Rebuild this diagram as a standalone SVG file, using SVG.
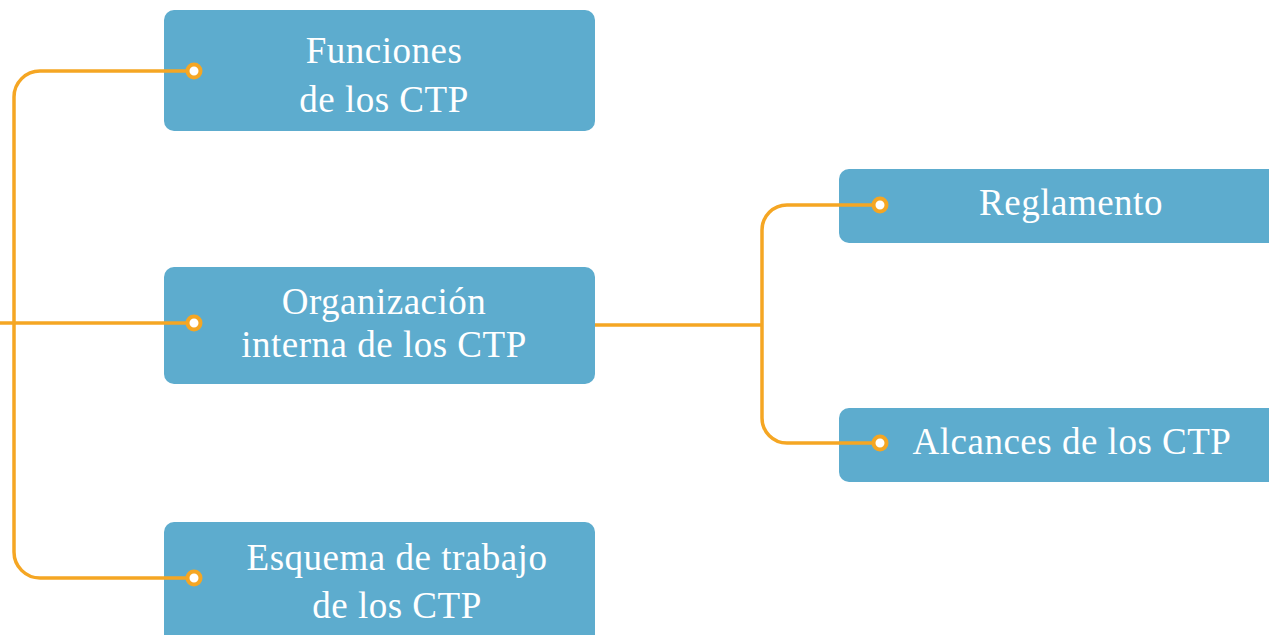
<svg xmlns="http://www.w3.org/2000/svg" width="1269" height="635" viewBox="0 0 1269 635">
<style>
.box{fill:#5DACCE}
.t{font-family:"Liberation Serif",serif;font-size:37px;letter-spacing:0.5px;fill:#ffffff;text-anchor:middle}
.ln{fill:none;stroke:#F5A623;stroke-width:3.5}
.dot{fill:#ffffff;stroke:#F5A623;stroke-width:4}
</style>
<rect width="1269" height="635" fill="#ffffff"/>
<g id="n1"><rect class="box" x="164" y="10" width="431" height="121" rx="10"/>
<text class="t" x="384" y="63">Funciones</text><text class="t" x="384" y="112">de los CTP</text></g>
<g id="n2"><rect class="box" x="164" y="267" width="431" height="117" rx="10"/>
<text class="t" x="384" y="314">Organización</text><text class="t" x="384" y="357">interna de los CTP</text></g>
<g id="n3"><rect class="box" x="164" y="522" width="431" height="130" rx="10"/>
<text class="t" x="397" y="570">Esquema de trabajo</text><text class="t" x="397" y="618">de los CTP</text></g>
<g id="n4"><rect class="box" x="839" y="169" width="440" height="74" rx="10"/>
<text class="t" x="1071" y="215">Reglamento</text></g>
<g id="n5"><rect class="box" x="839" y="408" width="440" height="74" rx="10"/>
<text class="t" x="1072" y="454">Alcances de los CTP</text></g>
<g id="connectors">
<path class="ln" d="M194 71 H40 A26 26 0 0 0 14 97 V552 A26 26 0 0 0 40 578 H194"/>
<path class="ln" d="M0 323 H194"/>
<path class="ln" d="M595 325 H762"/>
<path class="ln" d="M880 205 H787 A25 25 0 0 0 762 230 V418 A25 25 0 0 0 787 443 H880"/>
<circle class="dot" cx="194" cy="71" r="6.5"/>
<circle class="dot" cx="194" cy="323" r="6.5"/>
<circle class="dot" cx="194" cy="578" r="6.5"/>
<circle class="dot" cx="880" cy="205" r="6.5"/>
<circle class="dot" cx="880" cy="443" r="6.5"/>
</g>
</svg>
